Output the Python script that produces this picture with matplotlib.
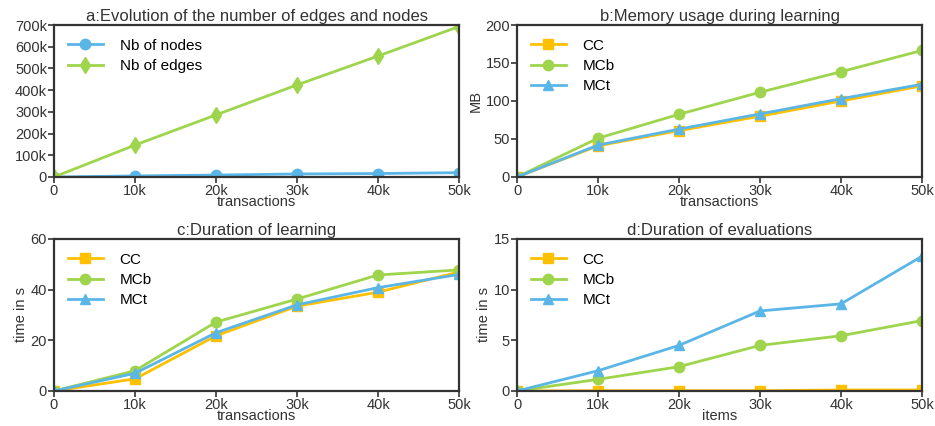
import matplotlib
matplotlib.use("Agg")
import matplotlib.pyplot as plt
from matplotlib.ticker import FuncFormatter

plt.rcParams['font.family'] = ['Liberation Sans', 'DejaVu Sans']

x = [0, 10000, 20000, 30000, 40000, 50000]

# a
nodes = [0, 5000, 9000, 14000, 16000, 20000]
edges = [0, 147000, 286000, 424000, 557000, 693000]

# b
mem_cc = [0, 41, 61, 80, 100, 120]
mem_mcb = [0, 51, 82.5, 111.5, 138.5, 166.5]
mem_mct = [0, 42, 63, 83, 103, 122]

# c
learn_cc = [0, 4.8, 21.8, 33.5, 39, 47]
learn_mcb = [0, 8, 27.2, 36.3, 45.8, 47.8]
learn_mct = [0, 7, 23, 34, 40.8, 46]

# d
eval_cc = [0, 0.03, 0.03, 0.03, 0.1, 0.1]
eval_mcb = [0, 1.15, 2.4, 4.5, 5.45, 6.95]
eval_mct = [0, 2.0, 4.5, 7.9, 8.6, 13.3]

YELLOW = '#FFC000'
GREEN = '#9ED54C'
BLUE = '#5BB6E8'
DARK = '#333333'

xticks = [0, 10000, 20000, 30000, 40000, 50000]
xlabels = ['0', '10k', '20k', '30k', '40k', '50k']

fig = plt.figure(figsize=(9.35, 4.26), dpi=100)


def setup(ax, title, xlabel, ylabel, ylim, yticks):
    ax.set_xlim(0, 50000)
    ax.set_ylim(*ylim)
    ax.set_xticks(xticks)
    ax.set_xticklabels(xlabels)
    ax.set_yticks(yticks)
    ax.set_title(title, fontsize=12, color=DARK, pad=3)
    ax.set_xlabel(xlabel, fontsize=10.5, color=DARK, labelpad=-2)
    if ylabel:
        ax.set_ylabel(ylabel, fontsize=10.5, color=DARK, labelpad=2)
    for s in ax.spines.values():
        s.set_color(DARK)
        s.set_linewidth(1.6)
    ax.tick_params(direction='out', length=4, width=1.2, color=DARK,
                   labelcolor=DARK, labelsize=10.5, pad=1)
    leg = ax.legend(loc='upper left', frameon=False, fontsize=11,
                    handlelength=2.3, borderaxespad=0.5, labelspacing=0.4,
                    handletextpad=1.1)
    return leg


W = 405 / 935
H = 152 / 426

ax = fig.add_axes([54 / 935, 1 - 177 / 426, W, H])
ax.plot(x, nodes, color=BLUE, marker='o', ms=7.5, lw=2, label='Nb of nodes')
ax.plot(x, edges, color=GREEN, marker='d', ms=8, lw=2, label='Nb of edges')
setup(ax, 'a:Evolution of the number of edges and nodes', 'transactions', None,
      (0, 700000), range(0, 700001, 100000))
ax.yaxis.set_major_formatter(FuncFormatter(lambda v, p: '0' if v == 0 else '%dk' % (v / 1000)))

ax = fig.add_axes([517 / 935, 1 - 177 / 426, W, H])
ax.plot(x, mem_cc, color=YELLOW, marker='s', ms=7.5, lw=2, label='CC')
ax.plot(x, mem_mcb, color=GREEN, marker='o', ms=7.5, lw=2, label='MCb')
ax.plot(x, mem_mct, color=BLUE, marker='^', ms=7.5, lw=2, label='MCt')
setup(ax, 'b:Memory usage during learning', 'transactions', 'MB',
      (0, 200), range(0, 201, 50))

ax = fig.add_axes([54 / 935, 1 - 391 / 426, W, H])
ax.plot(x, learn_cc, color=YELLOW, marker='s', ms=7.5, lw=2, label='CC')
ax.plot(x, learn_mcb, color=GREEN, marker='o', ms=7.5, lw=2, label='MCb')
ax.plot(x, learn_mct, color=BLUE, marker='^', ms=7.5, lw=2, label='MCt')
setup(ax, 'c:Duration of learning', 'transactions', 'time in s',
      (0, 60), range(0, 61, 20))

ax = fig.add_axes([517 / 935, 1 - 391 / 426, W, H])
ax.plot(x, eval_cc, color=YELLOW, marker='s', ms=7.5, lw=2, label='CC')
ax.plot(x, eval_mcb, color=GREEN, marker='o', ms=7.5, lw=2, label='MCb')
ax.plot(x, eval_mct, color=BLUE, marker='^', ms=7.5, lw=2, label='MCt')
setup(ax, 'd:Duration of evaluations', 'items', 'time in s',
      (0, 15), range(0, 16, 5))

fig.savefig('out.png', dpi=100)
